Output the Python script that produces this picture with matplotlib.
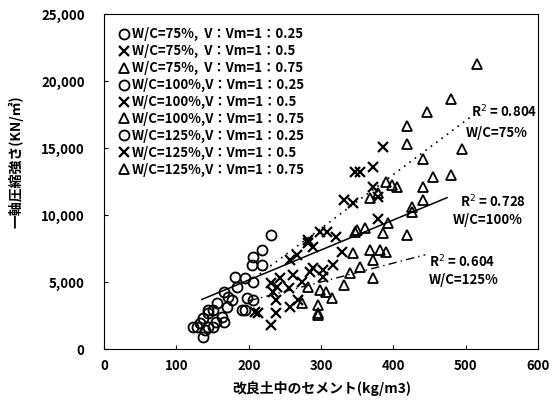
import matplotlib
matplotlib.use("Agg")
import matplotlib.pyplot as plt
import numpy as np

plt.rcParams['font.family'] = ['Noto Sans CJK JP', 'DejaVu Sans']

# cement content (kg/m3) and unconfined compressive strength (kN/m2)
# circles : V:Vm=1:0.25
c75_x = [230, 218, 206, 205, 218, 181, 195, 184, 165, 206]
c75_y = [8530, 7410, 6890, 6290, 6290, 5390, 5310, 4640, 4270, 5020]
c100_x = [171, 206, 177, 156, 170, 198, 191, 195, 151, 144]
c100_y = [3890, 3670, 3670, 3440, 3140, 3820, 2920, 2920, 2920, 2920]
c125_x = [163, 165, 144, 137, 154, 133, 123, 144, 151, 136, 140, 129]
c125_y = [2400, 2020, 2700, 2320, 2020, 1950, 1650, 1650, 1650, 900, 1420, 1650]

# crosses : V:Vm=1:0.5
x75_x = [386, 372, 347, 354, 371, 378, 331, 344, 379, 308, 320, 299]
x75_y = [15050, 13620, 13250, 13180, 12130, 11380, 11150, 10930, 9730, 8760, 8380, 8760]
x100_x = [282, 289, 329, 267, 257, 317, 289, 303, 285, 282, 261, 303]
x100_y = [8160, 7640, 7260, 7040, 6660, 6290, 6060, 5910, 5760, 7930, 5540, 5390]
x125_x = [243, 274, 255, 239, 268, 237, 257, 230, 212, 237, 230, 234, 209]
x125_y = [5310, 5020, 4570, 4640, 3670, 3670, 3140, 4940, 2700, 2700, 1800, 4270, 2770]

# triangles : V:Vm=1:0.75
t75_x = [516, 479, 447, 419, 419, 495, 441, 454, 479, 441, 441, 426]
t75_y = [21260, 18640, 17670, 16620, 15270, 14970, 14150, 12870, 13020, 12130, 11150, 10630]
t100_x = [389, 398, 405, 378, 368, 393, 419, 385, 361, 350, 347, 426]
t100_y = [12500, 12280, 12130, 11680, 11300, 9430, 8530, 8680, 9060, 8910, 8760, 10250]
t125_x = [344, 368, 382, 389, 371, 354, 340, 371, 331, 315, 296, 295, 282, 274, 306, 299, 296]
t125_y = [7190, 7410, 7410, 7260, 6660, 6140, 5690, 5310, 4790, 3820, 3290, 2550, 4640, 3440, 4270, 4420, 2700]

# regression lines (end points)
fit75_x, fit75_y = [215, 506], [5600, 17300]
fit100_x, fit100_y = [135, 474], [3700, 11300]
fit125_x, fit125_y = [200, 444], [3600, 7040]

series = [
    (c75_x, c75_y, 'o', 'W/C=75%,  V：Vm=1：0.25'),
    (x75_x, x75_y, 'x', 'W/C=75%,  V：Vm=1：0.5'),
    (t75_x, t75_y, '^', 'W/C=75%,  V：Vm=1：0.75'),
    (c100_x, c100_y, 'o', 'W/C=100%,V：Vm=1：0.25'),
    (x100_x, x100_y, 'x', 'W/C=100%,V：Vm=1：0.5'),
    (t100_x, t100_y, '^', 'W/C=100%,V：Vm=1：0.75'),
    (c125_x, c125_y, 'o', 'W/C=125%,V：Vm=1：0.25'),
    (x125_x, x125_y, 'x', 'W/C=125%,V：Vm=1：0.5'),
    (t125_x, t125_y, '^', 'W/C=125%,V：Vm=1：0.75'),
]

fig = plt.figure(figsize=(5.6, 4.04), dpi=100)
ax = fig.add_axes([0.186, 0.136, 0.775, 0.829])

for sx, sy, m, lab in series:
    if m == 'x':
        ax.plot(sx, sy, linestyle='none', marker='x', ms=7.5, mew=1.6,
                color='black', label=lab)
    else:
        ax.plot(sx, sy, linestyle='none', marker=m, ms=7.2, mew=1.3,
                mfc='none', mec='black', label=lab)

ax.plot(fit75_x, fit75_y, color='black', lw=1.2, linestyle=(0, (1, 3)))
ax.plot(fit100_x, fit100_y, color='black', lw=1.1, linestyle='-')
ax.plot(fit125_x, fit125_y, color='black', lw=1.0, linestyle=(0, (6, 3, 1, 3)))

tf = dict(fontsize=9.5, fontweight='bold', ha='center', va='center')
ax.text(553, 17700, 'R$^2$ = 0.804', **tf)
ax.text(542, 16150, 'W/C=75%', **tf)
ax.text(537, 10950, 'R$^2$ = 0.728', **tf)
ax.text(530, 9650, 'W/C=100%', **tf)
ax.text(495, 6500, 'R$^2$ = 0.604', **tf)
ax.text(497, 5150, 'W/C=125%', **tf)

ax.set_xlim(0, 600)
ax.set_ylim(0, 25000)
ax.set_xticks(np.arange(0, 601, 100))
ax.set_yticks(np.arange(0, 25001, 5000))
ax.set_yticklabels([f'{v:,}' for v in range(0, 25001, 5000)])
ax.tick_params(direction='in', length=3, labelsize=9.5)
for t in ax.get_xticklabels() + ax.get_yticklabels():
    t.set_fontweight('bold')
ax.tick_params(axis='x', pad=7)
ax.tick_params(axis='y', pad=14)

ax.set_xlabel('改良土中のセメント(kg/m3)', fontsize=10, fontweight='bold', labelpad=6)
ax.set_ylabel('一軸圧縮強さ(KN/㎡)', fontsize=10, fontweight='bold')
ax.yaxis.set_label_coords(-0.185, 0.56)

ax.legend(loc='upper left', frameon=False, handletextpad=0.1,
          labelspacing=0.22, borderaxespad=0.6, handlelength=1.0,
          prop={'weight': 'bold', 'size': 9.5})

fig.savefig('out.png', dpi=100)
